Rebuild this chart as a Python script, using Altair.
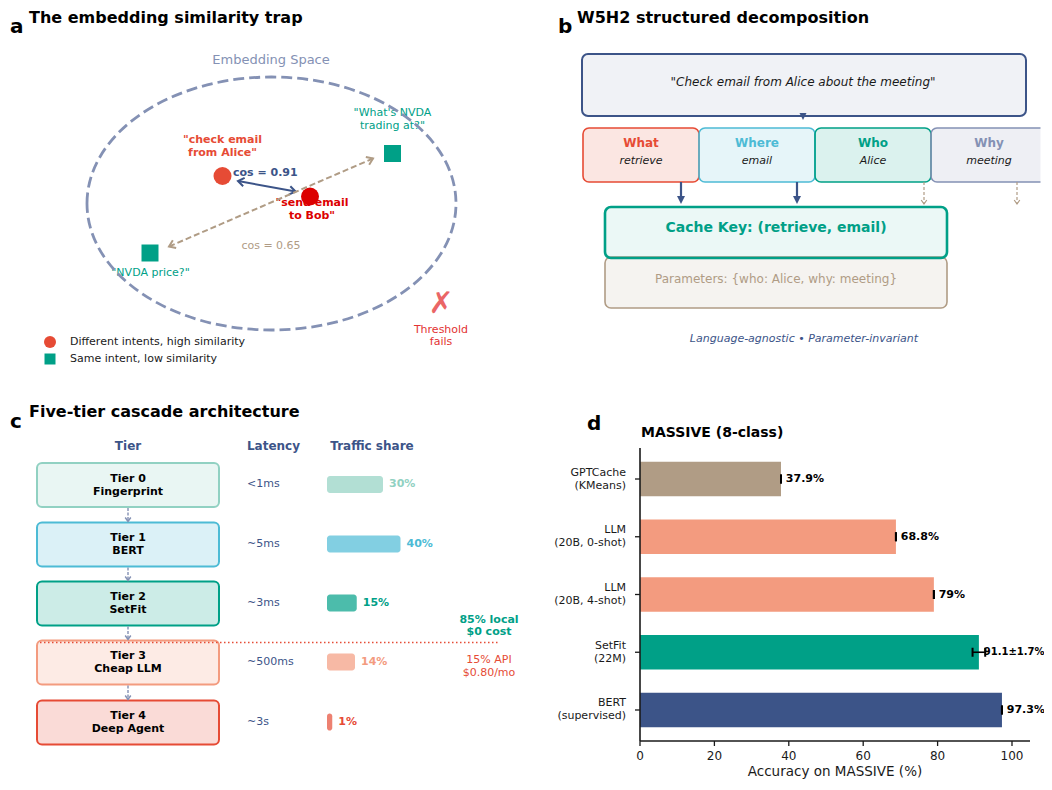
import math
import altair as alt
import pandas as pd

FONT = "DejaVu Sans"

# ---------------- content: values and texts ----------------
panel_letters = ["a", "b", "c", "d"]
panel_titles = ["The embedding similarity trap", "W5H2 structured decomposition",
                "Five-tier cascade architecture", "MASSIVE (8-class)"]

# panel a
emb_space = "Embedding Space"
emb_queries = ['"check email\nfrom Alice"', '"send email\nto Bob"',
               '"What\'s NVDA\ntrading at?"', '"NVDA price?"']
emb_kind = ["circle", "circle", "square", "square"]
cos_labels = ["cos = 0.91", "cos = 0.65"]
legend_labels = ["Different intents, high similarity", "Same intent, low similarity"]
fail_mark = "\u2717"
fail_text = "Threshold\nfails"

# panel b
query = '"Check email from Alice about the meeting"'
w5h2_slots = ["What", "Where", "Who", "Why"]
w5h2_values = ["retrieve", "email", "Alice", "meeting"]
w5h2_in_key = [True, True, False, False]
cache_key = "Cache Key: (retrieve, email)"
params_text = "Parameters: {who: Alice, why: meeting}"
b_note = "Language-agnostic \u2022 Parameter-invariant"

# panel c
c_headers = ["Tier", "Latency", "Traffic share"]
tier_names = ["Tier 0\nFingerprint", "Tier 1\nBERT", "Tier 2\nSetFit", "Tier 3\nCheap LLM", "Tier 4\nDeep Agent"]
tier_latency = ["<1ms", "~5ms", "~3ms", "~500ms", "~3s"]
tier_share = [30, 40, 15, 14, 1]
local_note = "85% local\n$0 cost"
api_note = "15% API\n$0.80/mo"

# panel d
models = ["GPTCache\n(KMeans)", "LLM\n(20B, 0-shot)", "LLM\n(20B, 4-shot)", "SetFit\n(22M)", "BERT\n(supervised)"]
accuracy = [37.9, 68.8, 79.0, 91.1, 97.3]
accuracy_err = [0.0, 0.0, 0.0, 1.7, 0.0]
accuracy_labels = ["37.9%", "68.8%", "79%", "91.1\u00b11.7%", "97.3%"]
acc_ticks = [0, 20, 40, 60, 80, 100]
acc_title = "Accuracy on MASSIVE (%)"

# ---------------- styles ----------------
NAVY = "#3C5488"; RED = "#E64B35"; DRED = "#DC0000"; TEAL = "#00A087"; CYAN = "#4DBBD5"
SALMON = "#F39B7F"; GREYBLUE = "#8491B4"; LTEAL = "#91D1C2"; TAN = "#B09C85"; INK = "#1a1a1a"
EMB_COLORS = [RED, DRED, TEAL, TEAL]
SLOT_COLORS = [RED, CYAN, TEAL, GREYBLUE]
TIER_COLORS = [LTEAL, CYAN, TEAL, SALMON, RED]
MODEL_COLORS = [TAN, SALMON, SALMON, TEAL, NAVY]
VALUE_LABEL_FS = [11, 11, 11, 10, 11]

# ---------------- layout (page pixels) ----------------
LETTER_POS = [(10, 33), (558, 33), (10, 428), (587, 430)]
TITLE_POS = [(29, 23), (577, 23), (29, 417), (641, 437)]
TITLE_SIZE = [16, 16, 16, 14]

A_SPACE_POS = (271, 60)
A_ELLIPSE = (271.5, 203.5, 184.5, 126.5)
A_PTS = [(222.5, 176), (310, 196.5), (392.5, 153.5), (150, 253)]
A_PT_SIZE = [324, 324, 289, 289]
A_LBL = [(222.5, 146.5), (312, 209.5), (392.5, 119.5), (150.5, 272.5)]
A_COS_POS = [(233, 173), (271, 246)]
A_ARROW1 = (238, 181, 295.5, 191.5)
A_ARROW2 = (373, 158.5, 169, 246.5)
A_FAIL = (441, 304)
A_FAIL_TXT = (441, 336)
A_LEG = [(50, 342), (50, 359)]
A_LEG_TXT_X = 70

B_TOP = (582, 1026, 54, 116)
B_QUERY_POS = (803, 82)
B_SLOT_X0 = [583, 699, 815, 931]
B_SLOT_W = 116
B_SLOT_Y = (128, 182)
B_CLIP_X = 1040.5
B_ARROW_X = [681, 797, 924, 1017]
B_ARROW_Y = (182, 204)
B_KEY_BOX = (605, 947, 207, 258)
B_PAR_BOX = (605, 947, 257, 308)
B_KEY_POS = (776, 228)
B_PAR_POS = (776, 279)
B_NOTE_POS = (804, 339)

C_HEAD_POS = [(128, 446), (273.5, 446), (372, 446)]
C_ROW_Y = [485, 544.5, 603.5, 662.5, 722.5]
C_BOX_X = (37, 219)
C_BOX_HALF = 22
C_LAT_X = 247
C_BAR_X0 = 327
C_DOT = (40, 498, 642.5)
C_NOTE_POS = [(489, 626), (489, 666.5)]

# panel d (chart pixels, i.e. page - 8)
D_X_RANGE = [632, 1022]
D_X_MAX = 104.84
D_Y_RANGE = [440, 733]
D_AXIS_Y = 733
D_YLAB_X = 618
D_TICK = 5
D_XLAB_OFF = 15
D_XTITLE_OFF = 31

XS = alt.Scale(domain=[8, 1044], range=[0, 1036], nice=False, zero=False)
YS = alt.Scale(domain=[8, 782], range=[0, 774], nice=False, zero=False)


def ex(f):
    return alt.X(f"{f}:Q", scale=XS, axis=None)


def ey(f):
    return alt.Y(f"{f}:Q", scale=YS, axis=None)


def T(x, y, t, fs, c):
    return dict(x=x, y=y, t=t, fs=fs, c=c)


def text_layer(rows, weight="normal", style="normal", align="center", baseline="middle", lh=13):
    fixed = []
    for r in rows:
        r = dict(r)
        n = r["t"].count("\n") + 1
        if baseline == "middle" and n > 1:
            r["y"] = r["y"] - (n - 1) * lh / 2
        fixed.append(r)
    return alt.Chart(pd.DataFrame(fixed)).mark_text(
        font=FONT, fontWeight=weight, fontStyle=style, align=align, baseline=baseline,
        lineBreak="\n", lineHeight=lh
    ).encode(x=ex("x"), y=ey("y"), text=alt.Text("t:N"),
             size=alt.Size("fs:Q", scale=None), color=alt.Color("c:N", scale=None))


def R(x, x2, y, y2, f, fo, s, sw):
    return dict(x=x, x2=x2, y=y, y2=y2, f=f, fo=fo, s=s, sw=sw)


def rect_layer(rows, radius):
    return alt.Chart(pd.DataFrame(rows)).mark_rect(cornerRadius=radius).encode(
        x=ex("x"), x2=alt.X2("x2"), y=ey("y"), y2=alt.Y2("y2"),
        fill=alt.Fill("f:N", scale=None), fillOpacity=alt.FillOpacity("fo:Q", scale=None),
        stroke=alt.Stroke("s:N", scale=None), strokeWidth=alt.StrokeWidth("sw:Q", scale=None))


def line_layer(segs, color, width, dash=None):
    kw = dict(color=color, strokeWidth=width)
    if dash:
        kw["strokeDash"] = dash
    rows = [dict(x=a, y=b, x2=c, y2=d) for a, b, c, d in segs]
    return alt.Chart(pd.DataFrame(rows)).mark_rule(**kw).encode(
        x=ex("x"), y=ey("y"), x2=alt.X2("x2"), y2=alt.Y2("y2"))


CHEV = "M -1 -0.7 L 0 0 L -1 0.7"
TRI = "M 0 0 L -1 -0.5 L -1 0.5 Z"


def heads(tips, color, length, width=1.5, filled=False):
    rows = []
    for (tx, ty, fx, fy) in tips:
        ang = math.degrees(math.atan2(ty - fy, tx - fx)) % 360
        rows.append(dict(x=tx, y=ty, ang=ang))
    return alt.Chart(pd.DataFrame(rows)).mark_point(
        shape=TRI if filled else CHEV, filled=filled, size=4 * length * length,
        color=color, strokeWidth=width, opacity=1, strokeJoin="miter"
    ).encode(x=ex("x"), y=ey("y"), angle=alt.Angle("ang:Q", scale=None))


layers = []

# ---------- titles ----------
layers.append(text_layer([T(x, y, t, 20, "#000") for (x, y), t in zip(LETTER_POS, panel_letters)],
                         weight="bold", align="left", baseline="alphabetic"))
layers.append(text_layer([T(x, y, t, s, "#000") for (x, y), t, s in zip(TITLE_POS, panel_titles, TITLE_SIZE)],
                         weight="bold", align="left", baseline="alphabetic"))

# ---------- panel a ----------
layers.append(text_layer([T(A_SPACE_POS[0], A_SPACE_POS[1], emb_space, 13, GREYBLUE)]))
bold_rows = [T(x, y, q, 11, c) for (x, y), q, c, k in zip(A_LBL, emb_queries, EMB_COLORS, emb_kind) if k == "circle"]
norm_rows = [T(x, y, q, 11, c) for (x, y), q, c, k in zip(A_LBL, emb_queries, EMB_COLORS, emb_kind) if k != "circle"]
layers.append(text_layer(bold_rows, weight="bold"))
layers.append(text_layer(norm_rows))
layers.append(text_layer([T(A_COS_POS[0][0], A_COS_POS[0][1], cos_labels[0], 11, NAVY)], weight="bold", align="left"))
layers.append(text_layer([T(A_COS_POS[1][0], A_COS_POS[1][1], cos_labels[1], 11, TAN)]))
layers.append(text_layer([T(A_FAIL[0], A_FAIL[1], fail_mark, 30, "#ea6666")]))
layers.append(text_layer([T(A_FAIL_TXT[0], A_FAIL_TXT[1], fail_text, 11, "#e33333")], lh=12.5))
layers.append(text_layer([T(A_LEG_TXT_X, y, t, 11, INK) for (x, y), t in zip(A_LEG, legend_labels)], align="left"))

pts = pd.DataFrame([dict(x=x, y=y, shape=k, c=c, sz=s)
                    for (x, y), k, c, s in zip(A_PTS, emb_kind, EMB_COLORS, A_PT_SIZE)] +
                   [dict(x=x, y=y, shape=k, c=c, sz=s)
                    for (x, y), k, c, s in zip(A_LEG, ["circle", "square"], [RED, TEAL], [144, 121])])
layers.append(alt.Chart(pts).mark_point(filled=True, opacity=1).encode(
    x=ex("x"), y=ey("y"), shape=alt.Shape("shape:N", scale=None),
    color=alt.Color("c:N", scale=None), size=alt.Size("sz:Q", scale=None)))

cx, cy, rx, ry = A_ELLIPSE
k = 0.5523
r = ry / rx
ELL = (f"M -1 0 C -1 {-k*r:.4f} {-k:.4f} {-r:.4f} 0 {-r:.4f} "
       f"C {k:.4f} {-r:.4f} 1 {-k*r:.4f} 1 0 "
       f"C 1 {k*r:.4f} {k:.4f} {r:.4f} 0 {r:.4f} "
       f"C {-k:.4f} {r:.4f} -1 {k*r:.4f} -1 0 Z")
layers.append(alt.Chart(pd.DataFrame([dict(x=cx, y=cy)])).mark_point(
    shape=ELL, filled=False, size=(2 * rx) ** 2, color=GREYBLUE, strokeWidth=2.8,
    strokeDash=[11, 5], opacity=1).encode(x=ex("x"), y=ey("y")))

x1, y1, x2, y2 = A_ARROW1
layers.append(line_layer([A_ARROW1], NAVY, 2))
layers.append(heads([(x2, y2, x1, y1), (x1, y1, x2, y2)], NAVY, 6, width=2))
x1, y1, x2, y2 = A_ARROW2
layers.append(line_layer([A_ARROW2], TAN, 2, dash=[6, 3]))
layers.append(heads([(x2, y2, x1, y1), (x1, y1, x2, y2)], TAN, 6, width=2))

# ---------- panel b ----------
b_rects = [R(B_TOP[0], B_TOP[1], B_TOP[2], B_TOP[3], NAVY, 0.08, NAVY, 2)]
for x0, c in zip(B_SLOT_X0, SLOT_COLORS):
    b_rects.append(R(x0, x0 + B_SLOT_W, B_SLOT_Y[0], B_SLOT_Y[1], c, 0.14, c, 1.6))
layers.append(rect_layer(b_rects, 6))
# panel b's axes end before the last slot box does: mask the overflow
layers.append(rect_layer([R(B_CLIP_X, 1060, B_SLOT_Y[0] - 3, B_SLOT_Y[1] + 3, "#ffffff", 1, "#ffffff", 0)], 0))
layers.append(rect_layer([R(*B_PAR_BOX, TAN, 0.12, TAN, 1.6),
                          R(*B_KEY_BOX, TEAL, 0.08, TEAL, 2.6)], 6))
layers.append(text_layer([T(B_QUERY_POS[0], B_QUERY_POS[1], query, 12, INK)], style="italic"))
layers.append(text_layer([T(x0 + B_SLOT_W / 2, 143, s, 12, c)
                          for x0, s, c in zip(B_SLOT_X0, w5h2_slots, SLOT_COLORS)], weight="bold"))
layers.append(text_layer([T(x0 + B_SLOT_W / 2, 161, v, 11, INK)
                          for x0, v in zip(B_SLOT_X0, w5h2_values)], style="italic"))
layers.append(text_layer([T(B_KEY_POS[0], B_KEY_POS[1], cache_key, 14, TEAL)], weight="bold"))
layers.append(text_layer([T(B_PAR_POS[0], B_PAR_POS[1], params_text, 12, TAN)]))
layers.append(text_layer([T(B_NOTE_POS[0], B_NOTE_POS[1], b_note, 11, NAVY)], style="italic"))

key_x = [x for x, kk in zip(B_ARROW_X, w5h2_in_key) if kk]
par_x = [x for x, kk in zip(B_ARROW_X, w5h2_in_key) if not kk]
ya, yb = B_ARROW_Y
layers.append(line_layer([(x, ya, x, yb - 4) for x in key_x], NAVY, 2.2))
layers.append(heads([(x, yb, x, ya) for x in key_x], NAVY, 8, filled=True))
layers.append(line_layer([(x, ya, x, yb) for x in par_x], TAN, 1.2, dash=[3, 2]))
layers.append(heads([(x, yb, x, ya) for x in par_x], TAN, 4, width=1.2))
layers.append(heads([(B_QUERY_POS[0], B_TOP[3] + 4, B_QUERY_POS[0], B_TOP[3] - 6)], NAVY, 7, filled=True))

# ---------- panel c ----------
layers.append(text_layer([T(x, y, h, 12, NAVY) for (x, y), h in zip(C_HEAD_POS, c_headers)], weight="bold"))
layers.append(rect_layer([R(C_BOX_X[0], C_BOX_X[1], y - C_BOX_HALF, y + C_BOX_HALF, c, 0.2, c, 2)
                          for y, c in zip(C_ROW_Y, TIER_COLORS)], 5))
layers.append(text_layer([T((C_BOX_X[0] + C_BOX_X[1]) / 2, y, t, 11, "#000")
                          for y, t in zip(C_ROW_Y, tier_names)], weight="bold", lh=13))
layers.append(text_layer([T(C_LAT_X, y - 1, t, 11, NAVY) for y, t in zip(C_ROW_Y, tier_latency)], align="left"))
arrow_x = (C_BOX_X[0] + C_BOX_X[1]) / 2
c_arr = [(arrow_x, C_ROW_Y[i] + C_BOX_HALF + 1, arrow_x, C_ROW_Y[i + 1] - C_BOX_HALF - 1)
         for i in range(len(C_ROW_Y) - 1)]
layers.append(line_layer(c_arr, GREYBLUE, 1.4, dash=[3, 1.5]))
layers.append(heads([(a[2], a[3], a[0], a[1]) for a in c_arr], GREYBLUE, 4, width=1.4))

bars_c = pd.DataFrame({"share": tier_share, "yc": C_ROW_Y, "col": TIER_COLORS})
bars_c_base = alt.Chart(bars_c).transform_calculate(
    bx0=f"{C_BAR_X0}",
    bx1=f"{C_BAR_X0} + 1.75 * datum.share + 3.5",
    by0="datum.yc - 9",
    by1="datum.yc + 8",
    lx="datum.bx1 + 6",
    ly="datum.yc - 1",
    lab="datum.share + '%'",
)
layers.append(bars_c_base.mark_rect(cornerRadius=3, opacity=0.7).encode(
    x=ex("bx0"), x2=alt.X2("bx1"), y=ey("by0"), y2=alt.Y2("by1"), color=alt.Color("col:N", scale=None)))
layers.append(bars_c_base.mark_text(font=FONT, fontWeight="bold", fontSize=11, align="left", baseline="middle").encode(
    x=ex("lx"), y=ey("ly"), text="lab:N", color=alt.Color("col:N", scale=None)))
layers.append(line_layer([(C_DOT[0], C_DOT[2], C_DOT[1], C_DOT[2])], RED, 1.5, dash=[1.5, 2.5]))
layers.append(text_layer([T(C_NOTE_POS[0][0], C_NOTE_POS[0][1], local_note, 11, TEAL)], weight="bold", lh=12.5))
layers.append(text_layer([T(C_NOTE_POS[1][0], C_NOTE_POS[1][1], api_note, 11, RED)], lh=12.5))

diagram = alt.layer(*layers)

# ---------- panel d ----------
d_df = pd.DataFrame({"model": models, "acc": accuracy, "err": accuracy_err,
                     "lab": accuracy_labels, "fs": VALUE_LABEL_FS})
DX = alt.Scale(domain=[0, D_X_MAX], range=D_X_RANGE, nice=False, zero=False)
DY = alt.Scale(domain=models, range=D_Y_RANGE, paddingInner=0.4, paddingOuter=0.237)


def dx(f):
    return alt.X(f"{f}:Q", scale=DX, axis=None)


def dy():
    return alt.Y("model:N", sort=models, scale=DY, axis=None)


base_d = alt.Chart(d_df).transform_calculate(
    lo="datum.acc - datum.err", hi="datum.acc + datum.err", lx="datum.acc + 1.3")
bars_d = base_d.mark_bar(opacity=1).encode(
    x=dx("acc"), y=dy(),
    color=alt.Color("model:N", scale=alt.Scale(domain=models, range=MODEL_COLORS), legend=None))
err_d = base_d.mark_rule(color="#000", strokeWidth=1.6).encode(x=dx("lo"), x2=alt.X2("hi"), y=dy())
cap_lo = base_d.mark_tick(color="#000", thickness=2, size=9, opacity=1).encode(x=dx("lo"), y=dy())
cap_hi = base_d.mark_tick(color="#000", thickness=2, size=9, opacity=1).encode(x=dx("hi"), y=dy())
lab_d = base_d.mark_text(font=FONT, fontWeight="bold", align="left", baseline="middle", color="#000").encode(
    x=dx("lx"), y=dy(), text="lab:N", size=alt.Size("fs:Q", scale=None))

# axis furniture drawn with the same scales
spine_df = pd.DataFrame({"a": [0.0], "b": [D_X_MAX]})
tick_df = pd.DataFrame({"v": acc_ticks, "t": [str(v) for v in acc_ticks]})
x_spine = alt.Chart(spine_df).mark_rule(color=INK, strokeWidth=1.6).encode(
    x=dx("a"), x2=alt.X2("b"), y=alt.value(D_AXIS_Y))
y_spine = alt.Chart(spine_df).mark_rule(color=INK, strokeWidth=1.6).encode(
    x=dx("a"), y=alt.value(D_Y_RANGE[0]), y2=alt.value(D_AXIS_Y))
x_ticks = alt.Chart(tick_df).mark_rule(color=INK, strokeWidth=1.3).encode(
    x=dx("v"), y=alt.value(D_AXIS_Y), y2=alt.value(D_AXIS_Y + D_TICK))
x_labels = alt.Chart(tick_df).mark_text(font=FONT, fontSize=12, color=INK, baseline="middle").encode(
    x=dx("v"), y=alt.value(D_AXIS_Y + D_XLAB_OFF), text="t:N")
x_title = alt.Chart(pd.DataFrame({"m": [D_X_MAX / 2], "t": [acc_title]})).mark_text(
    font=FONT, fontSize=13.5, color=INK, baseline="middle").encode(
    x=dx("m"), y=alt.value(D_AXIS_Y + D_XTITLE_OFF), text="t:N")
y_ticks = alt.Chart(d_df).mark_rule(color=INK, strokeWidth=1.3).encode(
    y=dy(), x=alt.value(D_X_RANGE[0] - D_TICK), x2=alt.value(D_X_RANGE[0]))
y_labels = alt.Chart(d_df).mark_text(font=FONT, fontSize=11, color=INK, align="right", baseline="middle",
                                     lineBreak="\n", lineHeight=13, dy=-6.5).encode(
    y=dy(), x=alt.value(D_YLAB_X), text="model:N")

panel_d = alt.layer(bars_d, err_d, cap_lo, cap_hi, lab_d,
                    x_spine, y_spine, x_ticks, x_labels, x_title, y_ticks, y_labels)

chart = alt.layer(diagram, panel_d).resolve_scale(
    x="independent", y="independent", color="independent"
).properties(
    width=1036, height=774, padding=0, autosize=alt.AutoSizeParams(type="none")
).configure_view(stroke=None)

chart.save("out.html", embed_options={"renderer": "svg", "actions": False})
